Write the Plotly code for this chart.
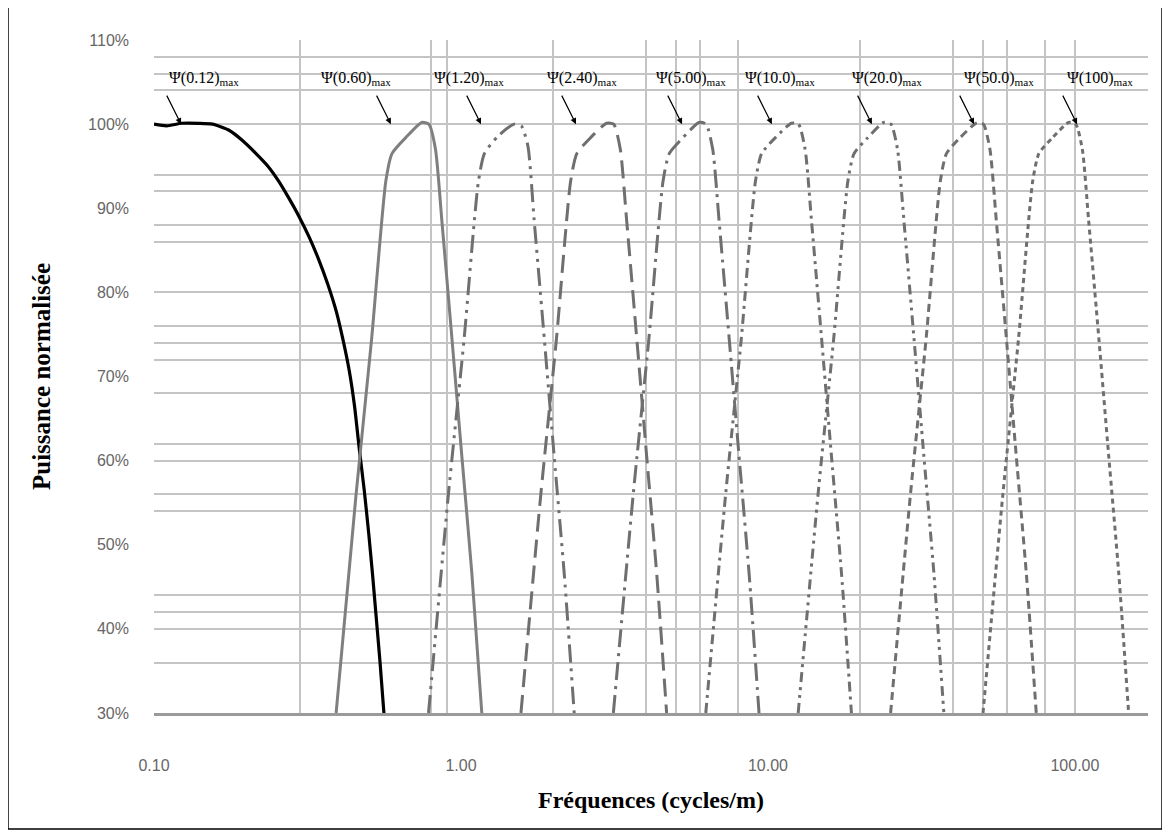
import math
import plotly.graph_objects as go

# ---------------- data ----------------
# curve 1 : low-pass (black)
f_c1 = [0.1, 0.11, 0.123, 0.14, 0.155, 0.175, 0.195, 0.215, 0.235, 0.255, 0.275, 0.297,
        0.32, 0.344, 0.368, 0.392, 0.412, 0.432, 0.45, 0.466, 0.484, 0.501, 0.515, 0.528, 0.545, 0.561]
p_c1 = [100, 99.8, 100.1, 100.1, 100, 99.3, 98.0, 96.5, 95.0, 93.2, 91.2, 89.0,
        86.6, 83.9, 81.0, 77.8, 74.5, 70.8, 66.5, 61.5, 56.5, 51.2, 46.5, 41.9, 36.0, 30]

# band-pass curves
f_c2 = [0.392, 0.455, 0.512, 0.569, 0.596, 0.661, 0.745, 0.786, 0.826, 0.866, 0.934, 1.006, 1.085, 1.169]
p_c2 = [30, 55.9, 74.6, 93.2, 96.5, 98.4, 100.2, 100, 97.0, 88.6, 74.6, 60.6, 46.6, 30]

f_c3 = [0.784, 0.91, 1.024, 1.138, 1.192, 1.322, 1.49, 1.572, 1.652, 1.732, 1.868, 2.012, 2.17, 2.338]
p_c3 = [30, 56.0, 74.5, 93.0, 96.5, 98.6, 100.0, 99.8, 97.4, 88.5, 74.5, 60.5, 46.5, 30]

f_c4 = [1.568, 1.82, 2.048, 2.276, 2.384, 2.644, 2.98, 3.144, 3.304, 3.464, 3.736, 4.024, 4.34, 4.676]
p_c4 = [30, 56.0, 74.6, 93.2, 96.5, 98.4, 100.1, 100, 97.0, 88.6, 74.6, 60.6, 46.6, 30]

f_c5 = [3.136, 3.64, 4.096, 4.552, 4.768, 5.288, 5.96, 6.288, 6.608, 6.928, 7.472, 8.048, 8.68, 9.352]
p_c5 = [30, 56.0, 74.6, 93.2, 96.5, 98.4, 100.2, 100, 97.0, 88.6, 74.6, 60.6, 46.6, 30]

f_c6 = [6.272, 7.28, 8.192, 9.104, 9.536, 10.576, 11.92, 12.576, 13.216, 13.856, 14.944, 16.096, 17.36, 18.704]
p_c6 = [30, 56.0, 74.6, 93.2, 96.5, 98.4, 100.1, 100, 97.0, 88.6, 74.6, 60.6, 46.6, 30]

f_c7 = [12.544, 14.56, 16.384, 18.208, 19.072, 21.152, 23.84, 25.152, 26.432, 27.712, 29.888, 32.192, 34.72, 37.408]
p_c7 = [30, 56.0, 74.6, 93.2, 96.5, 98.4, 100.2, 100, 97.0, 88.6, 74.6, 60.6, 46.6, 30]

f_c8 = [25.09, 29.12, 32.77, 36.42, 38.14, 42.30, 47.68, 50.30, 52.86, 55.42, 59.78, 64.38, 69.44, 74.82]
p_c8 = [30, 56.0, 74.6, 93.2, 96.5, 98.4, 100.1, 100, 97.0, 88.6, 74.6, 60.6, 46.6, 30]

f_c9 = [50.18, 58.24, 65.54, 72.83, 76.29, 84.61, 95.36, 100.6, 105.7, 110.8, 119.6, 128.8, 138.9, 149.6]
p_c9 = [30, 56.0, 74.6, 93.2, 96.5, 98.4, 100.2, 100, 97.0, 88.6, 74.6, 60.6, 46.6, 30]

# arrow labels (frequency the arrow points to, text)
arrow_f = [0.1225, 0.591, 1.162, 2.37, 5.25, 10.3, 21.8, 46.9, 101.6]
label_texts = ["Ψ(0.12)", "Ψ(0.60)", "Ψ(1.20)", "Ψ(2.40)", "Ψ(5.00)",
               "Ψ(10.0)", "Ψ(20.0)", "Ψ(50.0)", "Ψ(100)"]

# ticks
x_tickvals = [0.1, 1, 10, 100]
x_ticktext = ["0.10", "1.00", "10.00", "100.00"]
y_tickvals = [30, 40, 50, 60, 70, 80, 90, 100, 110]
y_ticktext = ["30%", "40%", "50%", "60%", "70%", "80%", "90%", "100%", "110%"]

# extra grid lines as they appear in the original
v_grid = [0.3, 0.8, 0.9, 2, 4, 5, 6, 8, 20, 40, 50, 60, 80, 100]
h_grid = [36, 40, 42, 44, 54, 56, 60, 62, 68, 72, 74, 76, 80, 86, 88, 92, 94, 100, 104, 106, 108]

# ---------------- styles ----------------
series = [
    (f_c1, p_c1, "black", "solid", 3.2),
    (f_c2, p_c2, "#7f7f7f", "solid", 3),
    (f_c3, p_c3, "#6f6f6f", "18px,6px,3px,6px,3px,6px", 3),
    (f_c4, p_c4, "#6f6f6f", "18px,8px", 3),
    (f_c5, p_c5, "#6f6f6f", "18px,6px,3px,6px", 3),
    (f_c6, p_c6, "#6f6f6f", "10px,5px,3px,5px", 3),
    (f_c7, p_c7, "#6f6f6f", "10px,5px,3px,5px,3px,5px", 3),
    (f_c8, p_c8, "#6f6f6f", "8px,5px", 3),
    (f_c9, p_c9, "#6f6f6f", "5px,4px", 3),
]
label_dx = [23, -35, -12, 6, 9, 8, 15, 25, 23]

fig = go.Figure()
for fx, py, col, dash, w in series:
    fig.add_trace(go.Scatter(x=fx, y=py, mode="lines",
                             line=dict(color=col, dash=dash, width=w, shape="spline", smoothing=0.6),
                             showlegend=False, hoverinfo="skip"))

for fa, txt, dx in zip(arrow_f, label_texts, label_dx):
    fig.add_annotation(x=math.log10(fa), y=100, ax=-15, ay=-30, text="",
                       showarrow=True, arrowhead=2, arrowsize=1, arrowwidth=1.2,
                       arrowcolor="black")
    fig.add_annotation(x=math.log10(fa), y=105.4, xshift=dx, showarrow=False,
                       text=txt + "<sub>max</sub>",
                       font=dict(family="Liberation Serif", size=16, color="black"))

# frame around the whole picture
fig.add_shape(type="rect", xref="paper", yref="paper",
              x0=-0.1469, x1=1.0141, y0=-0.1724, y1=1.0505,
              line=dict(color="black", width=1.5), layer="above")

fig.update_layout(
    width=1162, height=827,
    margin=dict(l=146, r=22, t=32, b=122),
    paper_bgcolor="white", plot_bgcolor="white",
    xaxis=dict(type="log", range=[-1.0, 2.238],
               tickmode="array", tickvals=x_tickvals, ticktext=x_ticktext,
               showgrid=False, zeroline=False,
               showline=True, linecolor="#9a9a9a", linewidth=3,
               ticks="", ticklabelstandoff=36,
               tickfont=dict(family="Liberation Sans", size=16, color="#666666"),
               minor=dict(tickmode="array", tickvals=v_grid, showgrid=True,
                          gridcolor="#c4c4c4", gridwidth=1.6, ticks=""),
               title=dict(text="Fréquences (cycles/m)", standoff=18,
                          font=dict(family="Liberation Serif", size=24, color="black",
                                    weight="bold"))),
    yaxis=dict(range=[30, 110],
               tickmode="array", tickvals=y_tickvals, ticktext=y_ticktext,
               showgrid=False, zeroline=False, showline=False,
               ticks="", ticklabelstandoff=24,
               tickfont=dict(family="Liberation Sans", size=16, color="#666666"),
               minor=dict(tickmode="array", tickvals=h_grid, showgrid=True,
                          gridcolor="#c4c4c4", gridwidth=1.6, ticks=""),
               title=dict(text="Puissance normalisée", standoff=30,
                          font=dict(family="Liberation Serif", size=25, color="black",
                                    weight="bold"))),
)

fig.write_html("out.html")
